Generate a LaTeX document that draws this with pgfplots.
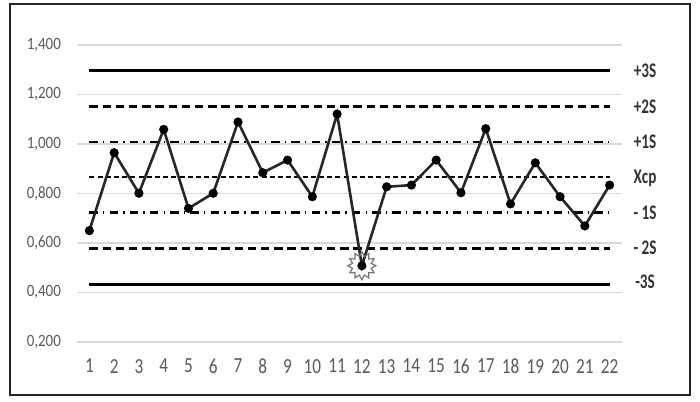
\documentclass[border=0pt]{standalone}
\usepackage{fontspec}
\setmainfont{Carlito}
\usepackage{graphicx}
\usepackage{pgfplots}
\pgfplotsset{compat=1.18}
\usetikzlibrary{shapes.geometric}
\definecolor{gridgray}{HTML}{D9D9D9}
\definecolor{labgray}{HTML}{595959}
\definecolor{linedark}{HTML}{262626}

\begin{document}
\begin{tikzpicture}
\useasboundingbox (0,0) rectangle (350pt,200.5pt);
\draw[line width=1.3pt, black!85] (5pt,3pt) rectangle (345pt,198.5pt);
\begin{axis}[
  at={(38.5pt,29.5pt)}, anchor=south west,
  scale only axis, width=272.5pt, height=148.5pt,
  xmin=0.5, xmax=22.5, ymin=0.2, ymax=1.4,
  xtick={1,...,22}, ytick={0.2,0.4,...,1.4},
  axis line style={draw=none}, major tick length=0pt,
  ymajorgrids, major grid style={gridgray, line width=0.9pt},
  /pgf/number format/assume math mode=true,
  yticklabel style={/pgf/number format/.cd, fixed, fixed zerofill, precision=3, use comma, /tikz/.cd,
    font=\fontsize{7.5}{8}\selectfont, text=labgray, xshift=-4.5pt},
  yticklabel={\scalebox{1}[1.15]{\pgfmathprintnumber{\tick}}},
  xticklabel style={font=\fontsize{8.6}{9}\selectfont, text=labgray, yshift=-5pt},
  xticklabel={\scalebox{1}[1.25]{\pgfmathprintnumber{\tick}}},
  clip=false,
]
% control limits
\addplot[black, line width=1.15pt, mark=none] coordinates {(1,1.297)(22,1.297)};
\addplot[black, line width=1.15pt, mark=none, dash pattern=on 4.2pt off 2.4pt] coordinates {(1,1.152)(22,1.152)};
\addplot[black, line width=1.15pt, mark=none, dash pattern=on 4.2pt off 2.6pt on 0.7pt off 2.6pt] coordinates {(1,1.008)(22,1.008)};
\addplot[black, line width=1.15pt, mark=none, dash pattern=on 2.5pt off 1.6pt] coordinates {(1,0.866)(22,0.866)};
\addplot[black, line width=1.15pt, mark=none, dash pattern=on 4.2pt off 2.6pt on 0.7pt off 2.6pt] coordinates {(1,0.723)(22,0.723)};
\addplot[black, line width=1.15pt, mark=none, dash pattern=on 4.2pt off 2.4pt] coordinates {(1,0.578)(22,0.578)};
\addplot[black, line width=1.15pt, mark=none] coordinates {(1,0.432)(22,0.432)};
% data
\addplot[linedark, line width=1.3pt, mark=*, mark size=1.6pt, mark options={fill=black, draw=black}]
coordinates {(1,0.650)(2,0.965)(3,0.801)(4,1.059)(5,0.740)(6,0.801)(7,1.089)(8,0.884)(9,0.935)(10,0.787)(11,1.121)(12,0.508)(13,0.827)(14,0.834)(15,0.935)(16,0.803)(17,1.062)(18,0.758)(19,0.924)(20,0.787)(21,0.669)(22,0.834)};
% out-of-control point marker
\addplot[only marks, mark=none, nodes near coords={},
  every node near coord/.style={star, star points=12, star point ratio=1.45, draw=black!55, line width=0.6pt,
    minimum size=14pt, inner sep=0pt, anchor=center}]
coordinates {(12,0.508)};
% limit labels
\begin{scope}[every node/.style={font=\fontsize{8}{8}\selectfont\bfseries, text=black!80}]
\node at (axis cs:23.43,1.297) {\scalebox{0.95}[1.3]{+3S}};
\node at (axis cs:23.43,1.152) {\scalebox{0.95}[1.3]{+2S}};
\node at (axis cs:23.43,1.008) {\scalebox{0.95}[1.3]{+1S}};
\node at (axis cs:23.43,0.862) {\scalebox{0.95}[1.3]{Xcp}};
\node at (axis cs:23.43,0.723) {\scalebox{0.95}[1.3]{- 1S}};
\node at (axis cs:23.43,0.582) {\scalebox{0.95}[1.3]{- 2S}};
\node at (axis cs:23.43,0.445) {\scalebox{0.95}[1.3]{-3S}};
\end{scope}
\end{axis}
\end{tikzpicture}
\end{document}
